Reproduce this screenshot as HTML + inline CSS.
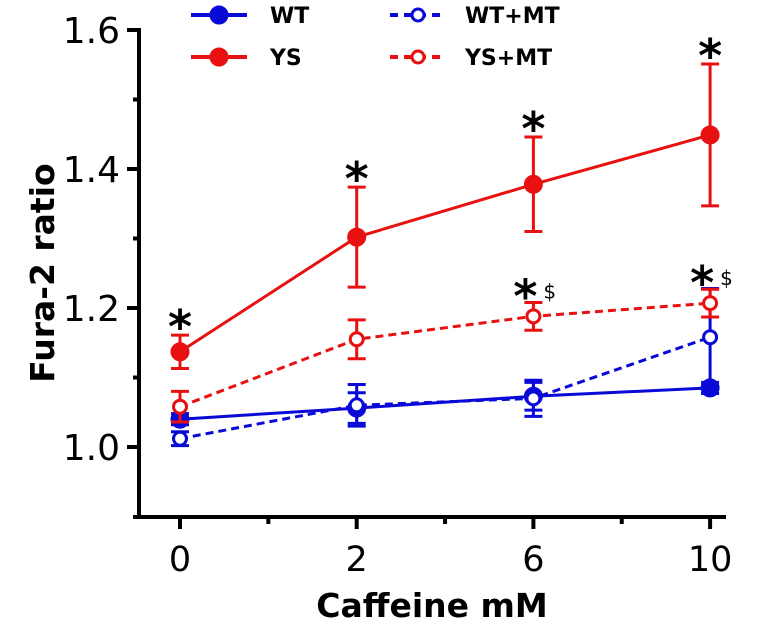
<!DOCTYPE html>
<html><head><meta charset="utf-8"><style>
body{margin:0;background:#fff}
svg{display:block;font-family:"DejaVu Sans","Liberation Sans",sans-serif}
</style></head><body>
<svg id="chart" width="758" height="626" viewBox="0 0 758 626">
<g id="axes"></g><g id="series"></g><g id="legend"></g>
</svg>
<script>
const categories=["0","2","6","10"];
const yTicks=[1.0,1.2,1.4,1.6];
const yMinor=[1.1,1.3,1.5];
const wtMean=[1.04,1.056,1.073,1.085];
const wtErr=[0.008,0.022,0.02,0.008];
const ysMean=[1.137,1.302,1.378,1.449];
const ysErr=[0.024,0.072,0.068,0.102];
const wtmtMean=[1.012,1.06,1.07,1.158];
const wtmtErr=[0.01,0.03,0.026,0.07];
const ysmtMean=[1.058,1.155,1.188,1.207];
const ysmtErr=[0.022,0.028,0.02,0.02];
const marks0=["*","*","*","*"];
const marks1=["","","*$","*$"];
const NS="http://www.w3.org/2000/svg";
const X=i=>180+i*176.7;
const Y=v=>447-(v-1)*695;
function mk(p,t,a){const e=document.createElementNS(NS,t);for(const k in a)e.setAttribute(k,a[k]);p.appendChild(e);return e;}
const ax=document.getElementById('axes');
let e=mk(ax,'line',{x1:139,y1:Y(1.6)-2,x2:139,y2:Y(0.9)+2,stroke:'#000','stroke-width':4});

e=mk(ax,'line',{x1:133,y1:517,x2:726,y2:517,stroke:'#000','stroke-width':4});

yTicks.forEach(t=>{
 let l=mk(ax,'line',{x1:127,y1:Y(t),x2:139,y2:Y(t),stroke:'#000','stroke-width':4});
 
 let tx=mk(ax,'text',{x:120,y:Y(t)+13,'text-anchor':'end','font-size':36});
 tx.textContent=t.toFixed(1);
 
});
yMinor.forEach(t=>{
 let l=mk(ax,'line',{x1:133,y1:Y(t),x2:139,y2:Y(t),stroke:'#000','stroke-width':4});
 
});
categories.forEach((c,i)=>{
 let l=mk(ax,'line',{x1:X(i),y1:517,x2:X(i),y2:529,stroke:'#000','stroke-width':4});
 
 if(i<3){let m=mk(ax,'line',{x1:X(i+0.5),y1:517,x2:X(i+0.5),y2:524,stroke:'#000','stroke-width':4});
 }
 let tx=mk(ax,'text',{x:X(i),y:571,'text-anchor':'middle','font-size':35});
 tx.textContent=c;
 
});
e=mk(ax,'text',{x:432,y:617,'text-anchor':'middle','font-size':33,'font-weight':'bold'});
e.textContent='Caffeine mM';
e=mk(ax,'text',{x:0,y:0,'text-anchor':'middle','font-size':33,'font-weight':'bold',transform:'translate(54,273) rotate(-90)'});
e.textContent='Fura-2 ratio';
const sg=document.getElementById('series');
function series(name,mean,err,color,dashed,open){
 const g=mk(sg,'g',{});
 
 mk(g,'polyline',{points:mean.map((v,i)=>X(i)+','+Y(v)).join(' '),fill:'none',stroke:color,'stroke-width':3,'stroke-dasharray':dashed?'8,5':'none'});
 mean.forEach((v,i)=>{
  const x=X(i);
  mk(g,'line',{x1:x,y1:Y(v+err[i]),x2:x,y2:Y(v-err[i]),stroke:color,'stroke-width':3});
  [v+err[i],v-err[i]].forEach(w=>mk(g,'line',{x1:x-9,y1:Y(w),x2:x+9,y2:Y(w),stroke:color,'stroke-width':3}));
  const p=mk(g,'circle',{cx:x,cy:Y(v),r:open?6.5:8,fill:open?'#fff':color,stroke:color,'stroke-width':3});
  
 });
}
series('wt',wtMean,wtErr,'#0a0ad8',false,false);
series('wt-mt',wtmtMean,wtmtErr,'#0a0ad8',true,true);
series('ys-mt',ysmtMean,ysmtErr,'#e81010',true,true);
series('ys',ysMean,ysErr,'#e81010',false,false);
function annot(arr,mean,err,gap){
 arr.forEach((m,i)=>{ if(!m)return;
  const y=Y(mean[i]+err[i])-gap;
  const t=mk(sg,'text',{x:X(i)-(m.length>1?8:0),y:y+28,'text-anchor':'middle','font-size':46,'font-weight':'bold'});
  t.textContent='*';
  if(m.includes('$')){const d=mk(sg,'text',{x:X(i)+10,y:y+14,'font-size':20});
   d.textContent='$';}
 });
}
annot(marks0,ysMean,ysErr,20);
annot(marks1,ysmtMean,ysmtErr,18);
const lg=document.getElementById('legend');
[['WT','#0a0ad8',false,191,15],['YS','#e81010',false,191,57],['WT+MT','#0a0ad8',true,390,15],['YS+MT','#e81010',true,390,57]].forEach(d=>{
 const g=mk(lg,'g',{});
 
 mk(g,'line',{x1:d[3],y1:d[4],x2:d[3]+56,y2:d[4],stroke:d[1],'stroke-width':4,'stroke-dasharray':d[2]?'8,6':'none'});
 mk(g,'circle',{cx:d[3]+28,cy:d[4],r:d[2]?6:8,fill:d[2]?'#fff':d[1],stroke:d[1],'stroke-width':3});
 const t=mk(g,'text',{x:d[3]+(d[2]?75:79),y:d[4]+8,'font-size':22,'font-weight':'bold'});t.textContent=d[0];
});
</script>
</body></html>
